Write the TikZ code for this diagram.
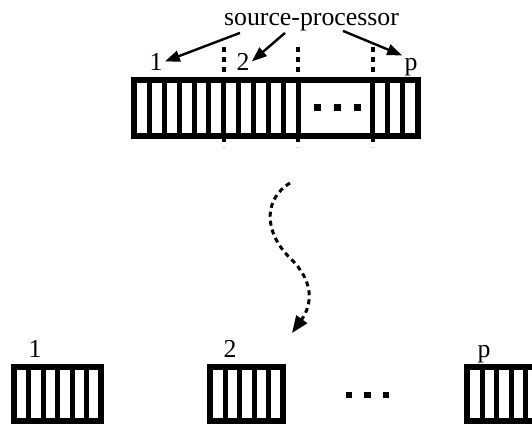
\documentclass[tikz,border=0pt]{standalone}
\usepackage{fontspec}
\setmainfont{Liberation Serif}
\usetikzlibrary{arrows.meta,calc}

\begin{document}
\begin{tikzpicture}[x=0.5pt, y=-0.5pt, line join=miter, >={Triangle[length=7.5pt,width=5.5pt]},
		lab/.style={inner sep=1pt, anchor=base, font=\fontsize{12.9}{15}\selectfont},
		rim/.style={line width=3pt},
		bar/.style={line width=2.5pt},
		cut/.style={line width=2pt, dash pattern=on 2.5pt off 2.5pt},
		arr/.style={->, line width=1.2pt},
		wave/.style={-{Triangle[length=8.5pt,width=6.5pt]}, line width=1.5pt, dash pattern=on 2.5pt off 2pt}]
	\useasboundingbox (0,0) rectangle (532,424);
	
	% Mảng dài của source-processor
	\def\cw{14.9}
	\foreach \k in {1,...,11,16,17,18}
		\draw[bar] (134.5+\k*\cw,80) -- (134.5+\k*\cw,136);
	\draw[rim] (134.5,80) rectangle (134.5+19*\cw,136);
	\foreach \k in {6,11,16}
		\draw[cut] (134.5+\k*\cw,47) -- (134.5+\k*\cw,147);
	\foreach \x in {317.5,337.5,357.5}
		\fill (\x-3.25,104.25) rectangle (\x+3.25,110.75);
	
	% Nhãn và mũi tên
	\node[lab] (src) at (311.5,25) {source-processor};
	\node[lab] (l1) at (156,70) {1};
	\node[lab] (l2) at (243,70) {2};
	\node[lab] (lp) at (411,70) {p};
	\draw[arr] ($(src.south)+(-71.5,0)$) -- (l1.east);
	\draw[arr] ($(src.south)+(-26.5,0)$) -- (l2.east);
	\draw[arr] ($(src.south)+(31.5,-2)$) -- (lp.north west);
	
	% Đường cong nét đứt
	\coordinate (cs) at (290,183);
	\coordinate (ce) at (292,333);
	\draw[wave] (cs) .. controls (265,198) and (262,230) .. (290,258)
		.. controls (315,282) and (312,305) .. (ce);
	
	% Các mảng con
	\foreach \x/\n/\w in {14.5/6/14.4, 210.5/5/14.6, 467.5/5/14.6} {
		\foreach \k in {1,...,\n}
			\draw[bar] (\x+\k*\w,366.5) -- (\x+\k*\w,421);
		\draw[rim] (\x,366.5) rectangle (\x+\n*\w,421);
	}
	\node[lab] (b1) at (35,357) {1};
	\node[lab] (b2) at (230,357) {2};
	\node[lab] (bp) at (484,357) {p};
	\foreach \x in {349,367.5,386}
		\fill (\x-3.25,391.75) rectangle (\x+3.25,398.25);
\end{tikzpicture}
\end{document}
